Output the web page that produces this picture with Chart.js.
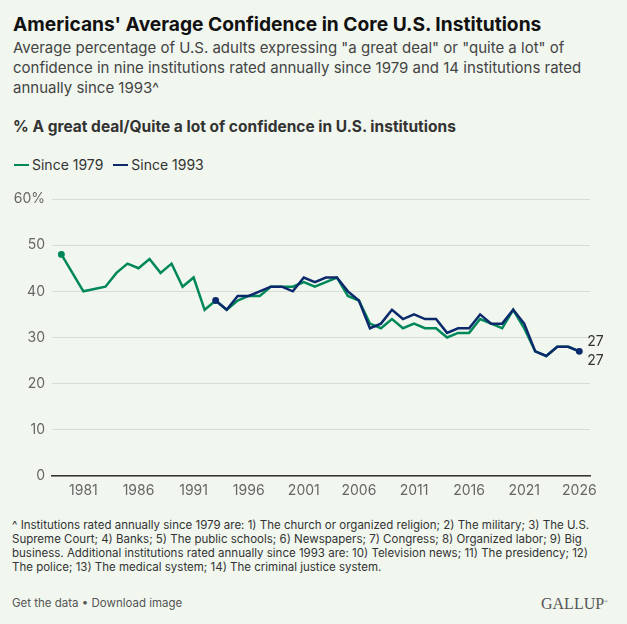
<!DOCTYPE html>
<html>
<head>
<meta charset="utf-8">
<script src="https://cdn.jsdelivr.net/npm/chart.js@4.4.1/dist/chart.umd.min.js"></script>
<style>
  html, body { margin: 0; padding: 0; }
  body { width: 627px; height: 624px; background: #f1f7ef; position: relative; overflow: hidden; font-family: Inter, Roboto, sans-serif; }
  .abs { position: absolute; white-space: nowrap; }
  #title { left: 13px; top: 12px; font-size: 19.2px; line-height: 24px; font-weight: 700; color: #111; }
  #sub { left: 13px; top: 38px; font-size: 15px; line-height: 20px; color: #444; }
  #head { left: 13px; top: 117.4px; font-size: 15.5px; line-height: 20px; font-weight: 700; color: #333; }
  #legend { left: 14px; top: 155px; font-size: 14px; line-height: 20px; color: #333; }
  #legend span.sw { display: inline-block; width: 15px; height: 2.5px; vertical-align: middle; margin-right: 3px; position: relative; top: -1px; }
  #legend span.item { margin-right: 10px; }
  #note { left: 12px; top: 517.7px; font-size: 11.5px; line-height: 14.2px; color: #333; }
  #links { left: 12px; top: 594.5px; font-size: 11.5px; line-height: 16px; color: #555; }
  #logo { left: 541px; top: 593px; font-family: "Liberation Serif", "DejaVu Serif", serif; font-size: 16px; line-height: 18px; color: #555; }
  #wrap { position: absolute; left: 0; top: 180px; width: 627px; height: 320px; }
</style>
</head>
<body>
<div id="title" class="abs">Americans' Average Confidence in Core U.S. Institutions</div>
<div id="sub" class="abs">Average percentage of U.S. adults expressing "a great deal" or "quite a lot" of<br>confidence in nine institutions rated annually since 1979 and 14 institutions rated<br>annually since 1993^</div>
<div id="head" class="abs">% A great deal/Quite a lot of confidence in U.S. institutions</div>
<div id="legend" class="abs"><span class="item"><span class="sw" style="background:#00875a"></span>Since 1979</span><span class="item"><span class="sw" style="background:#0c2a6b"></span>Since 1993</span></div>
<div id="wrap"><canvas id="chart"></canvas></div>
<div id="note" class="abs">^ Institutions rated annually since 1979 are: 1) The church or organized religion; 2) The military; 3) The U.S.<br>Supreme Court; 4) Banks; 5) The public schools; 6) Newspapers; 7) Congress; 8) Organized labor; 9) Big<br>business. Additional institutions rated annually since 1993 are: 10) Television news; 11) The presidency; 12)<br>The police; 13) The medical system; 14) The criminal justice system.</div>
<div id="links" class="abs">Get the data • Download image</div>
<div id="logo" class="abs">GALLUP<sup style="font-size:5px">®</sup></div>
<script>
var years1979 = [1979, 1981, 1983, 1984, 1985, 1986, 1987, 1988, 1989, 1990, 1991, 1992, 1993, 1994, 1995, 1996, 1997, 1998, 1999, 2000, 2001, 2002, 2003, 2004, 2005, 2006, 2007, 2008, 2009, 2010, 2011, 2012, 2013, 2014, 2015, 2016, 2017, 2018, 2019, 2020, 2021, 2022, 2023, 2024, 2025, 2026];
var since1979 = [48, 40, 41, 44, 46, 45, 47, 44, 46, 41, 43, 36, 38, 36, 38, 39, 39, 41, 41, 41, 42, 41, 42, 43, 39, 38, 33, 32, 34, 32, 33, 32, 32, 30, 31, 31, 34, 33, 32, 36, 32, 27, 26, 28, 28, 27];
var years1993 = [1993, 1994, 1995, 1996, 1997, 1998, 1999, 2000, 2001, 2002, 2003, 2004, 2005, 2006, 2007, 2008, 2009, 2010, 2011, 2012, 2013, 2014, 2015, 2016, 2017, 2018, 2019, 2020, 2021, 2022, 2023, 2024, 2025, 2026];
var since1993 = [38, 36, 39, 39, 40, 41, 41, 40, 43, 42, 43, 43, 40, 38, 32, 33, 36, 34, 35, 34, 34, 31, 32, 32, 35, 33, 33, 36, 33, 27, 26, 28, 28, 27];
var xTickYears = [1981, 1986, 1991, 1996, 2001, 2006, 2011, 2016, 2021, 2026];
var yTicks = [0, 10, 20, 30, 40, 50, 60];

var green = '#00875a';
var navy = '#0c2a6b';

function points(xs, ys) {
    return xs.map(function (x, i) { return { x: x, y: ys[i] }; });
}

// end labels next to the last point of each series
var endLabels = {
    id: 'endLabels',
    afterDatasetsDraw: function (chart) {
        var ctx = chart.ctx;
        ctx.save();
        ctx.font = '14px Inter, sans-serif';
        ctx.fillStyle = '#333';
        ctx.textBaseline = 'middle';
        chart.data.datasets.forEach(function (ds, i) {
            var meta = chart.getDatasetMeta(i);
            var last = meta.data[meta.data.length - 1];
            var val = ds.data[ds.data.length - 1].y;
            var dy = i === 1 ? -10 : 9;
            ctx.fillText(String(val), last.x + 8, last.y + dy);
        });
        ctx.restore();
    }
};

var ctx = document.getElementById('chart').getContext('2d');
var chart = new Chart(ctx, {
    type: 'line',
    data: {
        datasets: [{
            label: 'Since 1979',
            data: points(years1979, since1979),
            borderColor: green,
            backgroundColor: green,
            borderWidth: 2.5,
            pointRadius: function (c) { return c.dataIndex === 0 ? 2.2 : 0; },
            pointHoverRadius: 0,
            tension: 0,
            order: 2
        }, {
            label: 'Since 1993',
            data: points(years1993, since1993),
            borderColor: navy,
            backgroundColor: navy,
            borderWidth: 2.5,
            pointRadius: function (c) { return (c.dataIndex === 0 || c.dataIndex === since1993.length - 1) ? 2.2 : 0; },
            pointHoverRadius: 0,
            tension: 0,
            order: 1
        }]
    },
    options: {
        responsive: true,
        maintainAspectRatio: false,
        animation: false,
        layout: { padding: { top: 19, right: 37, left: 0, bottom: 0 } },
        plugins: { legend: { display: false }, tooltip: { enabled: false } },
        scales: {
            x: {
                type: 'linear',
                min: 1978.15,
                max: 2026.97,
                afterBuildTicks: function (s) { s.ticks = xTickYears.map(function (v) { return { value: v }; }); },
                afterFit: function (s) { s.height = 24; },
                grid: { display: false, drawTicks: false },
                border: { color: '#333', width: 1.5 },
                ticks: {
                    padding: 6,
                    color: '#666',
                    font: { family: 'Inter', size: 14 },
                    maxRotation: 0,
                    autoSkip: false,
                    callback: function (v) { return String(v); }
                }
            },
            y: {
                min: 0,
                max: 60,
                afterBuildTicks: function (s) { s.ticks = yTicks.map(function (v) { return { value: v }; }); },
                afterFit: function (s) { s.width = 52; },
                grid: { color: '#d8dcd8', drawTicks: false },
                border: { display: false },
                ticks: {
                    padding: 7,
                    color: '#666',
                    font: { family: 'Inter', size: 14 },
                    callback: function (v) { return v === 60 ? '60%' : String(v); }
                }
            }
        }
    },
    plugins: [endLabels]
});
</script>
</body>
</html>
